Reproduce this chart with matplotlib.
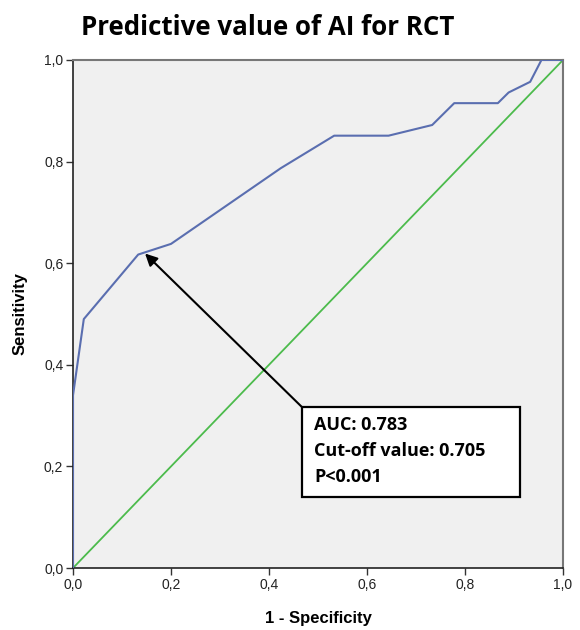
import matplotlib
matplotlib.use("Agg")
import matplotlib.pyplot as plt
from matplotlib.ticker import FuncFormatter
from matplotlib.patches import Rectangle

fpr = [0.0, 0.0, 0.022, 0.133, 0.2, 0.424, 0.533, 0.644, 0.733, 0.778, 0.867, 0.889, 0.933, 0.956, 1.0]
tpr = [0.0, 0.34, 0.49, 0.617, 0.638, 0.787, 0.851, 0.851, 0.872, 0.915, 0.915, 0.936, 0.957, 1.0, 1.0]
ticks = [0.0, 0.2, 0.4, 0.6, 0.8, 1.0]
cutoff_point = (0.147, 0.619)
annotation_lines = ["AUC: 0.783", "Cut-off value: 0.705", "P<0.001"]

fig = plt.figure(figsize=(5.8, 6.3), dpi=100)
ax = fig.add_axes([0.1259, 0.0984, 0.8448, 0.8064])
ax.set_facecolor("#f0f0f0")

ax.plot([0, 1], [0, 1], color="#4cbb4c", lw=1.3, zorder=2)
ax.plot(fpr, tpr, color="#5a6eb0", lw=1.5, zorder=3)

ax.set_xlim(0, 1)
ax.set_ylim(0, 1)
ax.set_xticks(ticks)
ax.set_yticks(ticks)
fmt = FuncFormatter(lambda v, p: f"{v:.1f}".replace(".", ","))
ax.xaxis.set_major_formatter(fmt)
ax.yaxis.set_major_formatter(fmt)
for lab in ax.get_xticklabels() + ax.get_yticklabels():
    lab.set_family("Liberation Sans")
    lab.set_fontsize(10)
    lab.set_color("#222222")
ax.tick_params(direction="out", length=5, width=1, color="#333333", pad=2)

for s in ["left", "bottom"]:
    ax.spines[s].set_color("#222222")
    ax.spines[s].set_linewidth(1.2)
for s in ["top", "right"]:
    ax.spines[s].set_color("#777777")
    ax.spines[s].set_linewidth(1.5)

ax.set_xlabel("1 - Specificity", family="Liberation Sans", fontweight="bold", fontsize=12, labelpad=14)
ax.set_ylabel("Sensitivity", family="Liberation Sans", fontweight="bold", fontsize=12, labelpad=12)

fig.text(0.462, 0.957, "Predictive value of AI for RCT", family="Open Sans", fontweight="bold",
         fontsize=18.6, ha="center", va="center")

ax.annotate("", xy=cutoff_point, xytext=(0.467, 0.317),
            arrowprops=dict(arrowstyle="-|>", color="black", lw=1.5, mutation_scale=18,
                            shrinkA=0, shrinkB=0), zorder=4)

ax.add_patch(Rectangle((0.467, 0.14), 0.445, 0.177, facecolor="white", edgecolor="black",
                       lw=1.6, zorder=5))
ax.text(0.4918, 0.299, "\n".join(annotation_lines), family="Open Sans", fontweight="bold",
        fontsize=13, ha="left", va="top", linespacing=1.58, zorder=6)

fig.savefig("out.png", dpi=100)
